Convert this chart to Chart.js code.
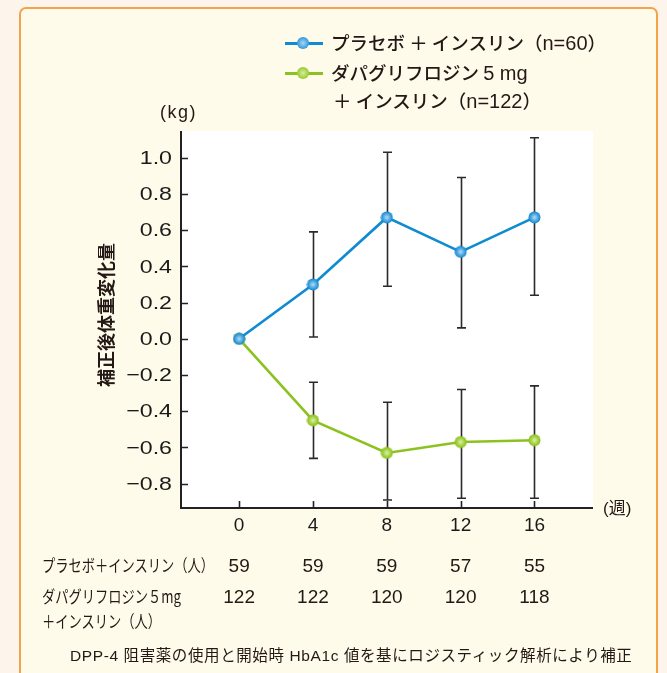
<!DOCTYPE html>
<html><head><meta charset="utf-8">
<script src="https://cdn.jsdelivr.net/npm/chart.js@4.4.1/dist/chart.umd.min.js"></script>
<style>
html,body{margin:0;padding:0;}
body{width:667px;height:673px;background:#fdf5ec;position:relative;overflow:hidden;font-family:"Liberation Sans","Noto Sans CJK JP",sans-serif;color:#231815;}
#box{position:absolute;left:19px;top:7px;width:639px;height:720px;background:#fffbea;border:2px solid #f3a349;border-radius:7px;box-sizing:border-box;}
#c{position:absolute;left:0;top:0;}
.t{position:absolute;white-space:nowrap;line-height:1;}
.la{font-family:"Liberation Sans",Arial,sans-serif;font-size:20px;font-weight:400;}
</style></head><body>
<div id="box"></div>
<canvas id="c" width="667" height="673"></canvas>
<div id="texts"></div>
<script>
// ---- data ----
const weeks = [0, 4, 8, 12, 16];
const placeboMean  = [0, 0.30, 0.67, 0.48, 0.67];
const placeboUpper = [null, 0.59, 1.03, 0.89, 1.11];
const placeboLower = [null, 0.01, 0.29, 0.06, 0.24];
const dapaMean  = [0, -0.45, -0.63, -0.57, -0.56];
const dapaUpper = [null, -0.24, -0.35, -0.28, -0.26];
const dapaLower = [null, -0.66, -0.89, -0.88, -0.88];
const yTickValues = [-0.8, -0.6, -0.4, -0.2, 0.0, 0.2, 0.4, 0.6, 0.8, 1.0];
const xTickLabels = ["0", "4", "8", "12", "16"];
const nPlacebo = [59, 59, 59, 57, 55];
const nDapa = [122, 122, 120, 120, 118];
const seriesNames = ["プラセボ＋インスリン（n=60）", "ダパグリフロジン 5 mg ＋インスリン（n=122）"];

const BLUE = '#0e8bd1', GREEN = '#8cc21f';

function markerImg(outer, mid, inner) {
  const c = document.createElement('canvas');
  c.width = 13; c.height = 13;
  const x = c.getContext('2d');
  const g = x.createRadialGradient(6.5, 6.5, 0.5, 6.5, 6.5, 6.2);
  g.addColorStop(0, inner);
  g.addColorStop(0.55, mid);
  g.addColorStop(1, outer);
  x.fillStyle = g;
  x.beginPath(); x.arc(6.5, 6.5, 6, 0, Math.PI * 2); x.fill();
  return c;
}
const blueMk = markerImg('#0b82cc', '#4aa6e0', '#a9d6f4');
const greenMk = markerImg('#86bd16', '#a6d245', '#d6eea0');

const fmt = v => (v < 0 ? '\u2212' : '') + Math.abs(v).toFixed(1);

const decor = {
  id: 'decor',
  beforeDraw(chart) {
    const a = chart.chartArea, ctx = chart.ctx;
    ctx.save();
    ctx.fillStyle = '#ffffff';
    ctx.fillRect(a.left, a.top, a.right - a.left, a.bottom - a.top);
    ctx.restore();
  },
  beforeDatasetsDraw(chart) {
    const ctx = chart.ctx, xs = chart.scales.x, ys = chart.scales.y;
    ctx.save();
    ctx.strokeStyle = '#2a2a2a';
    ctx.lineWidth = 1.6;
    const sets = [[placeboUpper, placeboLower], [dapaUpper, dapaLower]];
    sets.forEach(([up, lo]) => {
      weeks.forEach((w, i) => {
        if (up[i] == null) return;
        const px = Math.round(xs.getPixelForValue(w)) + 0.5;
        const t = ys.getPixelForValue(up[i]), b = ys.getPixelForValue(lo[i]);
        ctx.beginPath();
        ctx.moveTo(px, t); ctx.lineTo(px, b);
        ctx.moveTo(px - 4.5, t); ctx.lineTo(px + 4.5, t);
        ctx.moveTo(px - 4.5, b); ctx.lineTo(px + 4.5, b);
        ctx.stroke();
      });
    });
    ctx.restore();
  },
  afterDraw(chart) {
    const ctx = chart.ctx, a = chart.chartArea, xs = chart.scales.x, ys = chart.scales.y;
    ctx.save();
    ctx.strokeStyle = '#222';
    ctx.lineWidth = 2;
    ctx.beginPath();
    ctx.moveTo(a.left, a.top); ctx.lineTo(a.left, a.bottom); ctx.lineTo(a.right, a.bottom);
    ctx.stroke();
    ctx.lineWidth = 1.6;
    ctx.beginPath();
    yTickValues.forEach(v => {
      const py = Math.round(ys.getPixelForValue(v)) + 0.5;
      ctx.moveTo(a.left, py); ctx.lineTo(a.left + 7, py);
    });
    weeks.forEach(w => {
      const px = Math.round(xs.getPixelForValue(w)) + 0.5;
      ctx.moveTo(px, a.bottom); ctx.lineTo(px, a.bottom - 7);
    });
    ctx.stroke();
    ctx.fillStyle = '#1a1a1a';
    ctx.font = '19px "Liberation Sans", Arial, sans-serif';
    ctx.textBaseline = 'middle';
    yTickValues.forEach(v => {
      const py = ys.getPixelForValue(v);
      ctx.save();
      ctx.translate(a.left - 9, py + 1);
      ctx.scale(1.22, 1);
      ctx.textAlign = 'right';
      ctx.fillText(fmt(v), 0, 0);
      ctx.restore();
    });
    ctx.textAlign = 'center';
    weeks.forEach((w, i) => {
      ctx.fillText(xTickLabels[i], xs.getPixelForValue(w), a.bottom + 18);
    });
    ctx.restore();
  }
};

const chart = new Chart(document.getElementById('c'), {
  type: 'line',
  data: {
    datasets: [
      { label: seriesNames[0], data: weeks.map((w, i) => ({ x: w, y: placeboMean[i] })),
        borderColor: BLUE, borderWidth: 2.6, pointStyle: blueMk, pointRadius: 6, tension: 0, clip: false },
      { label: seriesNames[1], data: weeks.map((w, i) => ({ x: w, y: dapaMean[i] })),
        borderColor: GREEN, borderWidth: 2.6, pointStyle: greenMk, pointRadius: 6, tension: 0, clip: false }
    ]
  },
  options: {
    responsive: false, animation: false, devicePixelRatio: 1,
    layout: { padding: { top: 131, right: 74, left: 0, bottom: 0 } },
    plugins: { legend: { display: false }, tooltip: { enabled: false } },
    scales: {
      x: { type: 'linear', min: -3.15, max: 19.17,
        ticks: { display: false }, grid: { display: false }, border: { display: false },
        afterBuildTicks: s => { s.ticks = weeks.map(v => ({ value: v })); },
        afterFit: s => { s.height = 165; } },
      y: { type: 'linear', min: -0.934, max: 1.147,
        ticks: { display: false }, grid: { display: false }, border: { display: false },
        afterBuildTicks: s => { s.ticks = yTickValues.map(v => ({ value: v })); },
        afterFit: s => { s.width = 181; } }
    }
  },
  plugins: [decor]
});

// ---- HTML texts ----
const T = document.getElementById('texts');
function addText(txt, x, y, css, html) {
  const d = document.createElement('div');
  d.className = 't';
  if (html) d.innerHTML = txt; else d.textContent = txt;
  d.style.left = x + 'px'; d.style.top = y + 'px';
  if (css) d.style.cssText += css;
  T.appendChild(d);
  return d;
}
function addDiv(css) { const d = document.createElement('div'); d.style.cssText = 'position:absolute;' + css; T.appendChild(d); return d; }

// legend
addDiv('left:285px;top:41.5px;width:38px;height:3px;background:' + BLUE);
addDiv('left:297px;top:37px;width:12px;height:12px;border-radius:50%;background:radial-gradient(circle,#a9d6f4 0%,#4aa6e0 55%,#0b82cc 100%)');
addDiv('left:285px;top:71.5px;width:38px;height:3px;background:' + GREEN);
addDiv('left:297px;top:67px;width:12px;height:12px;border-radius:50%;background:radial-gradient(circle,#d6eea0 0%,#a6d245 55%,#86bd16 100%)');
const lg = 'font-size:18.5px;font-family:"Noto Sans CJK JP",sans-serif;font-weight:500;';
addText('プラセボ ＋ インスリン（<span class="la">n=60</span>）', 331, 33, lg, true);
addText('ダパグリフロジン <span class="la">5 mg</span>', 331, 63, lg, true);
addText('＋ インスリン（<span class="la">n=122</span>）', 333, 91, lg, true);

// axis titles
addText('(kg)', 160, 103, 'font-size:18px;letter-spacing:1.5px;');
addText('(週)', 603, 500, 'font-size:17px;');
addText('補正後体重変化量', 105, 315, 'font-size:18px;font-family:"Noto Sans CJK JP",sans-serif;font-weight:700;transform:translate(-50%,-50%) rotate(-90deg);');

// n table
const xs = chart.scales.x;
const cond = 'font-size:17px;font-family:"Noto Sans CJK JP",sans-serif;transform-origin:0 0;transform:scaleX(0.78);';
addText('プラセボ＋インスリン（人）', 42, 556, cond);
addText('ダパグリフロジン５mg', 42, 587, cond);
addText('＋インスリン（人）', 42, 612, cond);
weeks.forEach((w, i) => {
  const px = xs.getPixelForValue(w);
  addText(String(nPlacebo[i]), px, 556, 'font-size:19px;transform:translateX(-50%);');
  addText(String(nDapa[i]), px, 587, 'font-size:19px;transform:translateX(-50%);');
});
addText('DPP-4 阻害薬の使用と開始時 HbA1c 値を基にロジスティック解析により補正', 70, 648, 'font-size:15.5px;font-family:"Liberation Sans","Noto Sans CJK JP",sans-serif;letter-spacing:0.6px;');
</script>
</body></html>
